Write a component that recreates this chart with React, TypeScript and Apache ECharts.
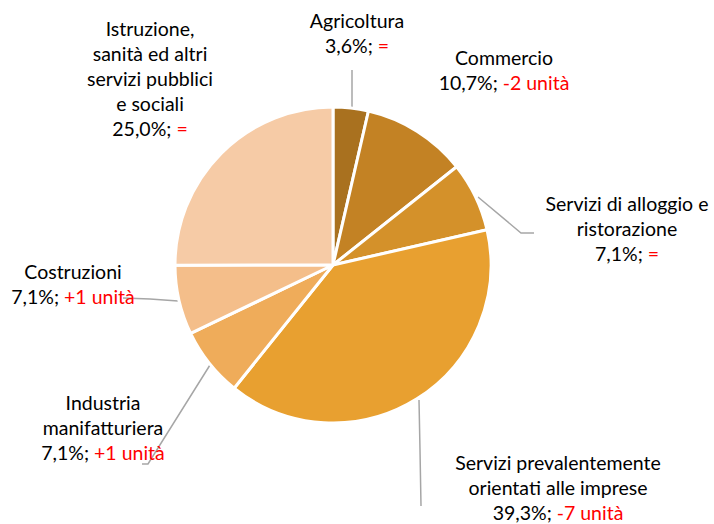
import React, { useEffect, useRef } from "react";
import * as echarts from "echarts";

const categories = [
  "Agricoltura",
  "Commercio",
  "Servizi di alloggio e\nristorazione",
  "Servizi prevalentemente\norientati alle imprese",
  "Industria\nmanifatturiera",
  "Costruzioni",
  "Istruzione,\nsanità ed altri\nservizi pubblici\ne sociali",
];
const shares = [3.6, 10.7, 7.1, 39.3, 7.1, 7.1, 25.0];
const changes = ["=", "-2 unità", "=", "-7 unità", "+1 unità", "+1 unità", "="];
const colors = ["#A9711F", "#C38224", "#D4912A", "#E8A030", "#EFAC5A", "#F4BE8A", "#F6CBA6"];

// label layout (text centre x, middle y) and leader lines
const labelPos: [number, number][] = [
  [357, 33],
  [504, 70],
  [627, 228],
  [558, 487],
  [103, 427],
  [73, 284],
  [150, 78],
];
const linePts: (number[][] | null)[] = [
  [[352, 108], [352, 90], [352, 70]],
  null,
  [[478, 197], [521, 233], [534, 233]],
  [[419, 400], [420, 450], [421, 506]],
  [[210, 365], [148, 464], [142, 464]],
  [[178, 301], [150, 299], [123, 298]],
  null,
];

const FONT = "Lato";
const FS = 19.5;

export default function App() {
  const ref = useRef<HTMLDivElement>(null);
  useEffect(() => {
    if (!ref.current) return;
    const chart = echarts.init(ref.current, undefined, { renderer: "svg" });
    const data = categories.map((c, i) => ({
      name: c,
      value: shares[i],
      itemStyle: { color: colors[i] },
      labelLine: { show: linePts[i] !== null },
    }));
    chart.setOption({
      animation: false,
      backgroundColor: "#ffffff",
      series: [
        {
          type: "pie",
          center: [333, 265],
          radius: 158,
          startAngle: 90,
          clockwise: true,
          avoidLabelOverlap: false,
          itemStyle: { borderColor: "#ffffff", borderWidth: 3 },
          label: {
            show: true,
            position: "outside",
            fontFamily: FONT,
            fontSize: FS,
            lineHeight: 25,
            color: "#000000",
            align: "center",
            formatter: (p: any) => {
              const pct = shares[p.dataIndex].toFixed(1).replace(".", ",");
              return `{n|${categories[p.dataIndex]}}\n{n|${pct}%; }{r|${changes[p.dataIndex]}}`;
            },
            rich: {
              n: { fontFamily: FONT, fontSize: FS, lineHeight: 25, color: "#000000" },
              r: { fontFamily: FONT, fontSize: FS, lineHeight: 25, color: "#FF0000" },
            },
          },
          labelLine: {
            show: true,
            length: 10,
            length2: 10,
            smooth: false,
            lineStyle: { color: "#A6A6A6", width: 1.5 },
          },
          labelLayout: (params: any) => {
            const i = params.dataIndex;
            const out: any = {
              x: labelPos[i][0],
              y: labelPos[i][1],
              align: "center",
              verticalAlign: "middle",
              hideOverlap: false,
            };
            if (linePts[i]) out.labelLinePoints = linePts[i];
            return out;
          },
          data,
        },
      ],
    });
    return () => chart.dispose();
  }, []);
  return (
    <div
      ref={ref}
      style={{ position: "fixed", left: 0, top: 0, width: 714, height: 524 }}
    />
  );
}
